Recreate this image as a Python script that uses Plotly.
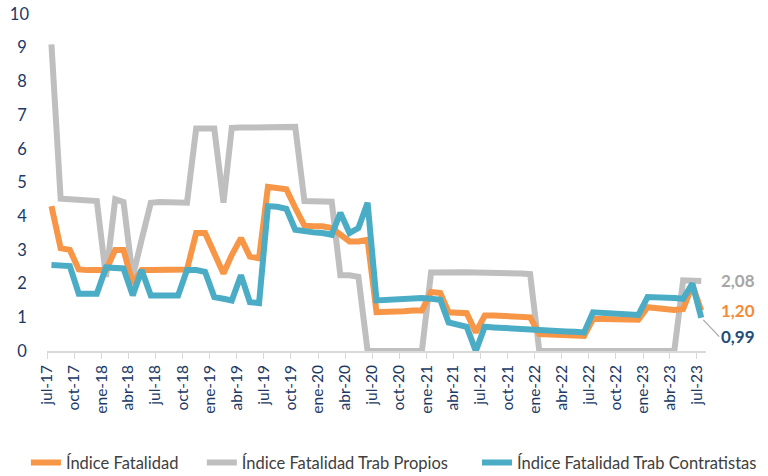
import pandas as pd
import plotly.graph_objects as go

# Monthly observations jul-17 .. jul-23 (plotted mid-month)
months = (pd.date_range("2017-07-01", periods=73, freq="MS") + pd.Timedelta(days=15)).strftime("%Y-%m-%d").tolist()

fatalidad = [4.30, 3.05, 3.00, 2.42, 2.40, 2.40, 2.40, 3.00, 3.00, 2.00, 2.40, 2.40,
             2.40, 2.40, 2.40, 2.42, 3.50, 3.50, 2.90, 2.30, 2.85, 3.35, 2.80, 2.75,
             4.87, 4.85, 4.80, 4.25, 3.72, 3.70, 3.70, 3.65, 3.45, 3.25, 3.25, 3.30,
             1.15, 1.15, 1.17, 1.18, 1.20, 1.20, 1.75, 1.72, 1.15, 1.15, 1.12, 0.55,
             1.05, 1.05, 1.03, 1.02, 1.00, 1.00, 0.50, 0.50, 0.48, 0.47, 0.46, 0.45,
             0.95, 0.95, 0.94, 0.93, 0.93, 0.93, 1.30, 1.28, 1.25, 1.22, 1.25, 1.95,
             1.20]

propios = [9.10, 4.52, 4.50, 4.48, 4.47, 4.45, 2.20, 4.50, 4.42, 2.20, 3.30, 4.40,
           4.42, 4.42, 4.40, 4.40, 6.60, 6.60, 6.60, 4.40, 6.62, 6.63, 6.63, 6.64,
           6.65, 6.65, 6.65, 6.65, 4.45, 4.45, 4.45, 4.43, 2.25, 2.25, 2.20, 0.00,
           0.00, 0.00, 0.00, 0.00, 0.00, 0.00, 2.33, 2.34, 2.35, 2.35, 2.34, 2.33,
           2.33, 2.32, 2.31, 2.30, 2.30, 2.28, 0.00, 0.00, 0.00, 0.00, 0.00, 0.00,
           0.00, 0.00, 0.00, 0.00, 0.00, 0.00, 0.00, 0.00, 0.00, 0.00, 2.10, 2.10,
           2.08]

contratistas = [2.55, 2.55, 2.52, 1.70, 1.70, 1.70, 2.48, 2.48, 2.45, 1.65, 2.40, 1.65,
                1.65, 1.65, 1.65, 2.40, 2.40, 2.35, 1.60, 1.55, 1.50, 2.25, 1.45, 1.42,
                4.30, 4.28, 4.22, 3.60, 3.55, 3.52, 3.50, 3.45, 4.10, 3.50, 3.65, 4.40,
                1.50, 1.52, 1.53, 1.55, 1.56, 1.57, 1.55, 1.52, 0.85, 0.80, 0.72, 0.00,
                0.72, 0.70, 0.68, 0.67, 0.66, 0.65, 0.62, 0.61, 0.60, 0.58, 0.57, 0.55,
                1.15, 1.14, 1.12, 1.10, 1.08, 1.07, 1.60, 1.60, 1.58, 1.57, 1.55, 2.00,
                0.99]

tick_dates = pd.date_range("2017-07-01", "2023-07-01", freq="3MS").strftime("%Y-%m-%d").tolist()
tick_labels = ["jul-17", "oct-17", "ene-18", "abr-18", "jul-18", "oct-18", "ene-19",
               "abr-19", "jul-19", "oct-19", "ene-20", "abr-20", "jul-20", "oct-20",
               "ene-21", "abr-21", "jul-21", "oct-21", "ene-22", "abr-22", "jul-22",
               "oct-22", "ene-23", "abr-23", "jul-23"]
y_ticks = list(range(0, 11))
y_labels = [str(v) if v >= 10 else f"{v}\u2009" for v in y_ticks]

C_ORANGE = "#F79646"
C_GRAY = "#BFBFBF"
C_BLUE = "#4BACC6"
NAVY = "#203864"
FONT = "Lato"

fig = go.Figure()
fig.add_trace(go.Scatter(x=months, y=propios, mode="lines", name="Índice Fatalidad Trab Propios",
                         line=dict(color=C_GRAY, width=6), legend="legend2"))
fig.add_trace(go.Scatter(x=months, y=fatalidad, mode="lines", name="Índice Fatalidad",
                         line=dict(color=C_ORANGE, width=6), legend="legend"))
fig.add_trace(go.Scatter(x=months, y=contratistas, mode="lines", name="Índice Fatalidad Trab Contratistas",
                         line=dict(color=C_BLUE, width=6), legend="legend3"))

fmt = lambda v: f"{v:.2f}".replace(".", ",")
fig.add_annotation(x=months[-1], y=propios[-1], text=f"<b>{fmt(propios[-1])}</b>", showarrow=False,
                   xanchor="left", xshift=18, font=dict(family=FONT, size=17, color="#A6A6A6"))
fig.add_annotation(x=months[-1], y=fatalidad[-1], text=f"<b>{fmt(fatalidad[-1])}</b>", showarrow=False,
                   xanchor="left", xshift=18, font=dict(family=FONT, size=17, color="#F38B3A"))
fig.add_annotation(x=months[-1], y=contratistas[-1], text=f"<b>{fmt(contratistas[-1])}</b>",
                   showarrow=True, arrowhead=0, arrowwidth=1.2, arrowcolor="#A6A6A6",
                   ax=18, ay=19, xanchor="left", standoff=3,
                   font=dict(family=FONT, size=17, color="#1F4E79"))

leg_common = dict(orientation="h", xanchor="left", y=-0.332, yanchor="middle",
                  font=dict(family=FONT, size=16.5, color="#404040"), itemwidth=30,
                  bgcolor="rgba(0,0,0,0)")

fig.update_layout(
    width=768, height=476,
    margin=dict(l=47, r=62, t=14, b=125, autoexpand=False),
    plot_bgcolor="white", paper_bgcolor="white",
    font=dict(family=FONT, color=NAVY),
    showlegend=True,
    legend=dict(x=-0.032, **leg_common),
    legend2=dict(x=0.235, **leg_common),
    legend3=dict(x=0.6525, **leg_common),
)
fig.update_xaxes(range=["2017-07-01", "2023-08-01"], tickmode="array", tickvals=tick_dates,
                 ticktext=tick_labels, tickangle=-90, ticks="outside", ticklen=6,
                 tickcolor="#D9D9D9", showline=True, linecolor="#D9D9D9", linewidth=1.5,
                 showgrid=False, zeroline=False, tickfont=dict(family=FONT, size=15.5, color=NAVY))
fig.update_yaxes(range=[0, 10], tickmode="array", tickvals=y_ticks, ticktext=y_labels,
                 showgrid=False, zeroline=False, showline=False, ticks="",
                 ticklabelstandoff=17, ticklabeloverflow="allow",
                 tickfont=dict(family=FONT, size=16.5, color=NAVY))

fig.write_html("out.html", config={"displayModeBar": False},
               post_script="document.body.style.margin='0px';")
